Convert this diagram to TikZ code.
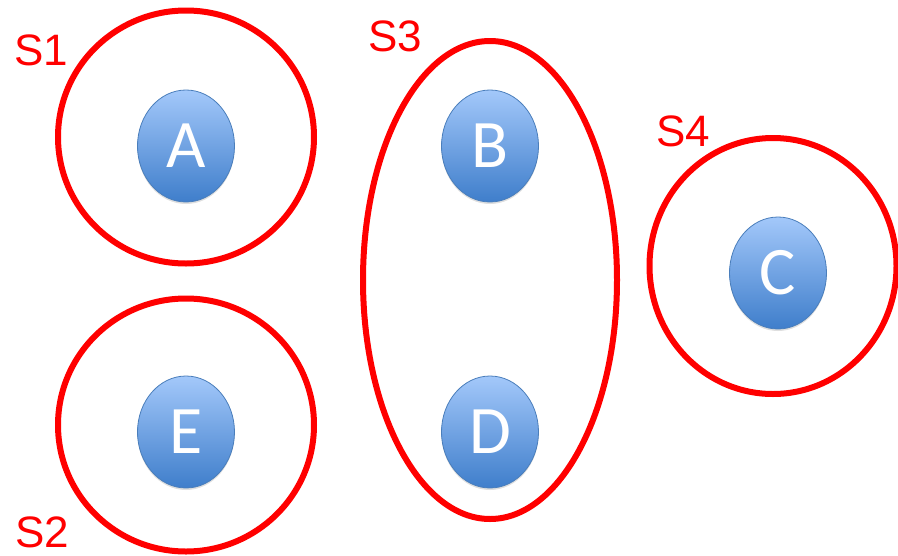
\documentclass[tikz,border=0pt]{standalone}
\usepackage{fontspec}
\setmainfont{Liberation Sans}
\newfontfamily\nodefont{Carlito}
\usetikzlibrary{shapes.geometric,shadows}
\definecolor{ntop}{HTML}{A3C8FA}
\definecolor{nbot}{HTML}{3F7ECB}
\definecolor{nedge}{HTML}{4A7EBB}
\tikzset{
  setring/.style={draw=red, line width=6pt, ellipse, fill=none, inner sep=0pt},
  elem/.style={ellipse, draw=nedge, line width=0.8pt, top color=ntop, bottom color=nbot,
    minimum width=97pt, minimum height=112pt, inner sep=0pt, text=white,
    font=\nodefont\fontsize{68}{68}\selectfont,
    drop shadow={shadow xshift=0pt, shadow yshift=-2pt, opacity=0.25}},
  setlabel/.style={text=red, font=\fontsize{44}{44}\selectfont, inner sep=0pt}
}
\begin{document}
\begin{tikzpicture}[x=1pt,y=-1pt]
\useasboundingbox (0,0) rectangle (898,555);
\node[setring, minimum width=256pt, minimum height=253pt] (s1) at (186,137) {};
\node[setring, minimum width=256pt, minimum height=253pt] (s2) at (186,425) {};
\node[setring, minimum width=254pt, minimum height=478pt] (s3) at (490,280) {};
\node[setring, minimum width=247pt, minimum height=256pt] (s4) at (773,266) {};
\node[elem] (a) at (186,146) {A};
\node[elem] (b) at (490,146) {B};
\node[elem] (c) at (778,273) {C};
\node[elem] (e) at (186,432) {E};
\node[elem] (d) at (490,432) {D};
\node[setlabel] (l1) at (41,50) {S1};
\node[setlabel] (l2) at (42,532) {S2};
\node[setlabel] (l3) at (395,36) {S3};
\node[setlabel] (l4) at (683,131) {S4};
\end{tikzpicture}
\end{document}
